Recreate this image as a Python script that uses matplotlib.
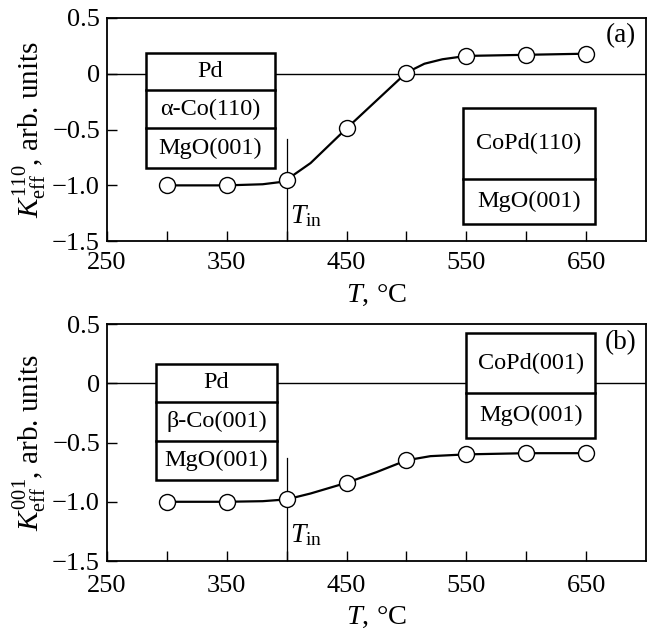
import numpy as np
import matplotlib
matplotlib.use("Agg")
import matplotlib.pyplot as plt
from matplotlib.patches import Rectangle

plt.rcParams["font.family"] = ["Liberation Serif", "DejaVu Serif"]
plt.rcParams["mathtext.fontset"] = "custom"
plt.rcParams["mathtext.rm"] = "Liberation Serif"
plt.rcParams["mathtext.it"] = "Liberation Serif:italic"

# measured points
T = [300, 350, 400, 450, 500, 550, 600, 650]
K110 = [-1.0, -1.0, -0.95, -0.49, 0.01, 0.16, 0.17, 0.18]
K001 = [-1.0, -1.0, -0.98, -0.84, -0.65, -0.60, -0.59, -0.59]

# smooth guide curves
T_c110 = [300, 350, 380, 395, 400, 420, 450, 475, 500, 515, 530, 550, 600, 650]
K_c110 = [-1.0, -1.0, -0.99, -0.97, -0.95, -0.80, -0.49, -0.24, 0.01, 0.09, 0.13, 0.16, 0.17, 0.18]
T_c001 = [300, 350, 380, 400, 420, 450, 475, 500, 520, 550, 600, 650]
K_c001 = [-1.0, -1.0, -0.995, -0.98, -0.93, -0.84, -0.75, -0.65, -0.615, -0.60, -0.59, -0.59]

xticks_major = [250, 350, 450, 550, 650]
xticks_minor = [300, 400, 500, 600]
yticks = [0.5, 0, -0.5, -1.0, -1.5]
ylabels = ["0.5", "0", "\u22120.5", "\u22121.0", "\u22121.5"]

# boxes: (x0, x1, row edges from top to bottom, texts)
boxes_a = [
    (283, 390, [0.186, -0.146, -0.487, -0.845], ["Pd", "\u03b1-Co(110)", "MgO(001)"]),
    (547.5, 657, [-0.307, -0.944, -1.347], ["CoPd(110)", "MgO(001)"]),
]
boxes_b = [
    (291, 392, [0.162, -0.156, -0.485, -0.82], ["Pd", "\u03b2-Co(001)", "MgO(001)"]),
    (550, 657.5, [0.424, -0.083, -0.46], ["CoPd(001)", "MgO(001)"]),
]

fig = plt.figure(figsize=(6.48, 6.33), dpi=100)
ax1 = fig.add_axes([0.165, 0.619, 0.832, 0.3526])
ax2 = fig.add_axes([0.165, 0.1137, 0.832, 0.3744])


def draw_panel(ax, Tc, Kc, Kp, boxes, tag, sup, vtop, xpad, lpad):
    ax.set_xlim(250, 700)
    ax.set_ylim(-1.5, 0.5)
    ax.axhline(0, color="black", lw=1.0, zorder=1)
    ax.plot([400, 400], [vtop, -1.5], color="black", lw=0.9, zorder=1)
    ax.plot(Tc, Kc, color="black", lw=1.6, zorder=2)
    ax.plot(T, Kp, "o", ms=11.5, mfc="white", mec="black", mew=1.0, zorder=3)
    for x0, x1, edges, texts in boxes:
        ax.add_patch(Rectangle((x0, edges[-1]), x1 - x0, edges[0] - edges[-1],
                               fc="white", ec="black", lw=1.8, zorder=4))
        for i, txt in enumerate(texts):
            if i > 0:
                ax.plot([x0, x1], [edges[i], edges[i]], color="black", lw=1.8, zorder=5)
            ax.text((x0 + x1) / 2, (edges[i] + edges[i + 1]) / 2, txt,
                    ha="center", va="center", fontsize=17.5, zorder=6)
    ax.text(692, 0.34, tag, ha="right", va="center", fontsize=19.5)
    ax.text(403, -1.28, "$T_{\\rm in}$", ha="left", va="center", fontsize=20)
    ax.set_xticks(xticks_major)
    ax.set_xticks(xticks_minor, minor=True)
    ax.set_yticks(yticks)
    ax.set_yticklabels(ylabels)
    ax.tick_params(which="both", direction="in", length=7, width=1.0, labelsize=19,
                   top=False, right=False)
    ax.tick_params(axis="x", pad=xpad)
    ax.tick_params(axis="y", pad=5)
    for s in ax.spines.values():
        s.set_linewidth(1.3)
    ax.set_xlabel("$T$, \u00b0C", fontsize=20.5, labelpad=lpad)
    ax.set_ylabel("$K_{\\rm eff}^{" + sup + "}$, arb. units", fontsize=21, labelpad=2)


draw_panel(ax1, T_c110, K_c110, K110, boxes_a, "(a)", "110", -0.58, 7.5, 6.5)
draw_panel(ax2, T_c001, K_c001, K001, boxes_b, "(b)", "001", -0.63, 10, 5.5)

fig.savefig("out.png", dpi=100)
